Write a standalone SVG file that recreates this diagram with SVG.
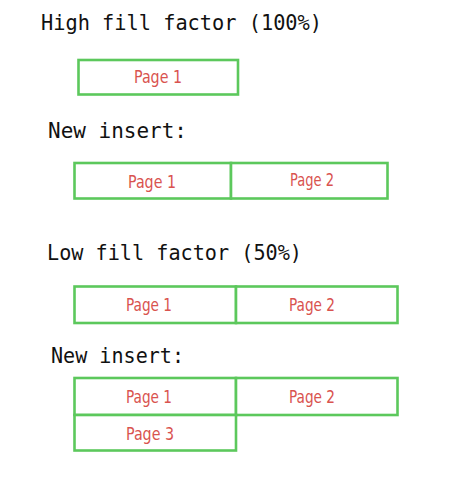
<svg xmlns="http://www.w3.org/2000/svg" width="474" height="497" viewBox="0 0 474 497">
<style>
.h{font-family:"DejaVu Sans Mono","Liberation Mono",monospace;font-size:21px;fill:#111}
.b{fill:#fff;stroke:#5cc85c;stroke-width:2.6}
.p{font-family:"DejaVu Sans Condensed","Roboto",sans-serif;font-size:17px;fill:#d9534f;text-anchor:middle}
</style>
<rect width="474" height="497" fill="#fff"/>
<text class="h" x="41" y="30" textLength="281" lengthAdjust="spacingAndGlyphs">High fill factor (100%)</text>
<g id="hf-page1"><rect class="b" x="78.5" y="60" width="159.5" height="34.5"/><text class="p" x="158" y="83" textLength="48" lengthAdjust="spacingAndGlyphs">Page 1</text></g>
<text class="h" x="48" y="138" textLength="139" lengthAdjust="spacingAndGlyphs">New insert:</text>
<g id="hi-page1"><rect class="b" x="74.5" y="163" width="156.5" height="35.5"/><text class="p" x="152" y="188" textLength="48" lengthAdjust="spacingAndGlyphs">Page 1</text></g>
<g id="hi-page2"><rect class="b" x="231" y="163" width="156.5" height="35.5"/><text class="p" x="312" y="186" textLength="44" lengthAdjust="spacingAndGlyphs">Page 2</text></g>
<text class="h" x="47" y="260" textLength="255" lengthAdjust="spacingAndGlyphs">Low fill factor (50%)</text>
<g id="lf-page1"><rect class="b" x="74.5" y="286.5" width="161.5" height="36.5"/><text class="p" x="149" y="311" textLength="46" lengthAdjust="spacingAndGlyphs">Page 1</text></g>
<g id="lf-page2"><rect class="b" x="236" y="286.5" width="161.5" height="36.5"/><text class="p" x="312" y="311" textLength="46" lengthAdjust="spacingAndGlyphs">Page 2</text></g>
<text class="h" x="51" y="363" textLength="133" lengthAdjust="spacingAndGlyphs">New insert:</text>
<g id="li-page1"><rect class="b" x="74.5" y="378" width="161.5" height="37"/><text class="p" x="149" y="403" textLength="46" lengthAdjust="spacingAndGlyphs">Page 1</text></g>
<g id="li-page2"><rect class="b" x="236" y="378" width="161.5" height="37"/><text class="p" x="312" y="403" textLength="46" lengthAdjust="spacingAndGlyphs">Page 2</text></g>
<g id="li-page3"><rect class="b" x="74.5" y="415" width="161.5" height="35.5"/><text class="p" x="150" y="440" textLength="48" lengthAdjust="spacingAndGlyphs">Page 3</text></g>
<g id="connectors"></g>
</svg>
